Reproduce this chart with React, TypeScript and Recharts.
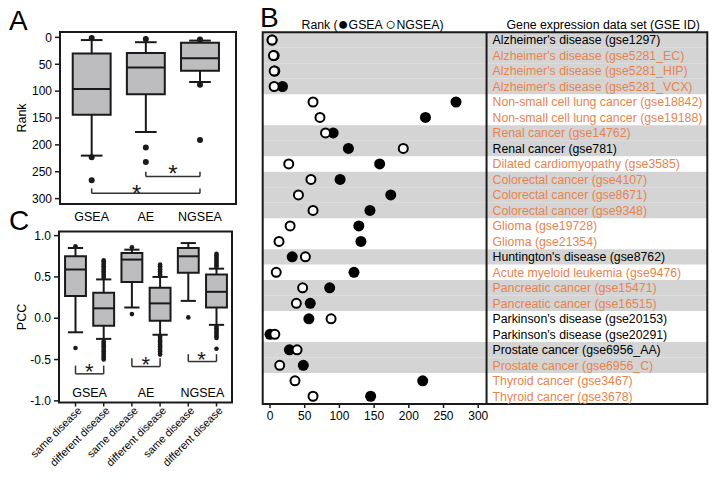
import React from "react";
import {
  ComposedChart,
  ScatterChart,
  Scatter,
  XAxis,
  YAxis,
  ReferenceArea,
  ReferenceLine,
  ReferenceDot,
} from "recharts";

const FONT = "'Liberation Sans', Arial, sans-serif";
const INK = "#1a1a1a";
const BOX_FILL = "#bdbdbf";
const BAND = "#d4d4d4";
const ORANGE = "#e8834e";

// ---- Panel A: rank of the disease gene set ----
const methodsA = ["GSEA", "AE", "NGSEA"];
const rankTicksA = [0, 50, 100, 150, 200, 250, 300];
const rankLowCap = [5, 9, 6];
const rankQ1 = [30, 29, 10];
const rankMedian = [96, 56, 39];
const rankQ3 = [144, 106, 62];
const rankHighCap = [220, 176, 83];
const rankOutliers = [
  [1, 223, 266],
  [3, 205, 232],
  [4, 88, 191],
];
// significance brackets: from / to group, line level, tick end, star position
const bracketsA = [
  { from: 1, to: 2, y: 259, tick: 250, starX: 1.5, starY: 244 },
  { from: 0, to: 2, y: 290, tick: 281, starX: 0.83, starY: 281 },
];

// ---- Panel C: PCC, same vs different disease ----
const groupsC = [
  "same disease",
  "different disease",
  "same disease",
  "different disease",
  "same disease",
  "different disease",
];
const methodsC = ["GSEA", "AE", "NGSEA"];
const pccTicks = [-1, -0.5, 0, 0.5, 1];
const pccLowCap = [-0.17, -0.25, 0.13, -0.2, 0.21, -0.08];
const pccQ1 = [0.27, -0.09, 0.44, -0.03, 0.55, 0.13];
const pccMedian = [0.59, 0.12, 0.71, 0.18, 0.75, 0.32];
const pccQ3 = [0.75, 0.31, 0.79, 0.37, 0.85, 0.53];
const pccHighCap = [0.85, 0.47, 0.83, 0.5, 0.91, 0.6];
const pccOutliers = [
  [0.87, -0.36],
  [
    0.49, 0.51, 0.53, 0.55, 0.57, 0.59, 0.61, 0.63, 0.65, 0.67, 0.69, 0.7,
    -0.28, -0.3, -0.32, -0.34, -0.36, -0.38, -0.4, -0.42, -0.44, -0.46,
    -0.48, -0.5,
  ],
  [0.86, 0.05],
  [
    0.51, 0.53, 0.55, 0.57, 0.59, 0.61, 0.63, 0.65, -0.22, -0.24, -0.26,
    -0.28, -0.3, -0.32, -0.34, -0.36, -0.38, -0.4, -0.42, -0.44,
  ],
  [0.01],
  [
    0.62, 0.64, 0.66, 0.68, 0.7, 0.72, 0.74, 0.76, 0.78, -0.1, -0.12, -0.14,
    -0.16, -0.18, -0.2, -0.22, -0.24, -0.37,
  ],
];
const bracketsC = [
  { from: 0, to: 1, y: -0.673, tick: -0.573, starX: 0.49, starY: -0.585 },
  { from: 2, to: 3, y: -0.585, tick: -0.484, starX: 2.49, starY: -0.496 },
  { from: 4, to: 5, y: -0.524, tick: -0.435, starX: 4.47, starY: -0.443 },
];
const groupLabelY = -0.895;

// ---- Panel B: rank per data set ----
const diseases = [
  "Alzheimer's disease",
  "Alzheimer's disease",
  "Alzheimer's disease",
  "Alzheimer's disease",
  "Non-small cell lung cancer",
  "Non-small cell lung cancer",
  "Renal cancer",
  "Renal cancer",
  "Dilated cardiomyopathy",
  "Colorectal cancer",
  "Colorectal cancer",
  "Colorectal cancer",
  "Glioma",
  "Glioma",
  "Huntington's disease",
  "Acute myeloid leukemia",
  "Pancreatic cancer",
  "Pancreatic cancer",
  "Parkinson's disease",
  "Parkinson's disease",
  "Prostate cancer",
  "Prostate cancer",
  "Thyroid cancer",
  "Thyroid cancer",
];
const gseIds = [
  "gse1297",
  "gse5281_EC",
  "gse5281_HIP",
  "gse5281_VCX",
  "gse18842",
  "gse19188",
  "gse14762",
  "gse781",
  "gse3585",
  "gse4107",
  "gse8671",
  "gse9348",
  "gse19728",
  "gse21354",
  "gse8762",
  "gse9476",
  "gse15471",
  "gse16515",
  "gse20153",
  "gse20291",
  "gse6956_AA",
  "gse6956_C",
  "gse3467",
  "gse3678",
];
const gseaRank = [
  3, 6, 7, 18, 268, 224, 91, 113, 158, 101, 174, 144, 128, 131, 32, 121, 86,
  58, 56, 0, 28, 48, 220, 145,
];
const ngseaRank = [
  3, 5, 6, 6, 62, 72, 80, 192, 27, 59, 41, 62, 29, 13, 51, 9, 47, 38, 88, 7,
  39, 14, 36, 62,
];
const rankTicksB = [0, 50, 100, 150, 200, 250, 300];

// draws one box-and-whisker through reference elements
function boxParts(
  key: string,
  x: number,
  half: number,
  capHalf: number,
  lo: number,
  q1: number,
  med: number,
  q3: number,
  hi: number
) {
  const line = { stroke: INK, strokeWidth: 2 };
  return [
    <ReferenceLine key={key + "w1"} segment={[{ x, y: lo }, { x, y: q1 }]} {...line} />,
    <ReferenceLine key={key + "w2"} segment={[{ x, y: q3 }, { x, y: hi }]} {...line} />,
    <ReferenceLine
      key={key + "c1"}
      segment={[{ x: x - capHalf, y: lo }, { x: x + capHalf, y: lo }]}
      {...line}
    />,
    <ReferenceLine
      key={key + "c2"}
      segment={[{ x: x - capHalf, y: hi }, { x: x + capHalf, y: hi }]}
      {...line}
    />,
    <ReferenceArea
      key={key + "b"}
      x1={x - half}
      x2={x + half}
      y1={q1}
      y2={q3}
      fill={BOX_FILL}
      fillOpacity={1}
      stroke={INK}
      strokeWidth={2}
    />,
    <ReferenceLine
      key={key + "m"}
      segment={[{ x: x - half, y: med }, { x: x + half, y: med }]}
      {...line}
    />,
  ];
}

function bracketParts(key: string, b: any, fontSize: number) {
  const line = { stroke: "#333", strokeWidth: 1.5 };
  return [
    <ReferenceLine key={key + "h"} segment={[{ x: b.from, y: b.y }, { x: b.to, y: b.y }]} {...line} />,
    <ReferenceLine key={key + "l"} segment={[{ x: b.from, y: b.y }, { x: b.from, y: b.tick }]} {...line} />,
    <ReferenceLine key={key + "r"} segment={[{ x: b.to, y: b.y }, { x: b.to, y: b.tick }]} {...line} />,
    <ReferenceDot
      key={key + "s"}
      x={b.starX}
      y={b.starY}
      r={0}
      shape={(p: any) => (
        <text
          x={p.cx}
          y={p.cy + fontSize * 0.57}
          textAnchor="middle"
          fontSize={fontSize}
          fontFamily={FONT}
          fill={INK}
        >
          *
        </text>
      )}
    />,
  ];
}

const dot = (r: number) => (p: any) => <circle cx={p.cx} cy={p.cy} r={r} fill={INK} />;

function PanelA() {
  const outliers = rankOutliers.flatMap((vals, i) => vals.map((v) => ({ x: i, y: v })));
  return (
    <ComposedChart
      width={240}
      height={230}
      margin={{ top: 32, right: 4, bottom: 0, left: 0 }}
      style={{ fontFamily: FONT }}
    >
      <XAxis
        type="number"
        dataKey="x"
        domain={[-0.585, 2.665]}
        ticks={[0, 1, 2]}
        interval={0}
        tickFormatter={(v: number) => methodsA[v]}
        height={26}
        axisLine={false}
        tickLine={false}
        tick={{ fill: "#000", fontSize: 12.5 }}
        allowDataOverflow
      />
      <YAxis
        type="number"
        dataKey="y"
        domain={[-10, 310]}
        reversed
        ticks={rankTicksA}
        interval={0}
        width={60}
        tickSize={5}
        tickMargin={3}
        axisLine={false}
        tickLine={{ stroke: INK, strokeWidth: 1.5 }}
        tick={{ fill: "#000", fontSize: 12 }}
        allowDataOverflow
        label={{
          value: "Rank",
          angle: -90,
          position: "insideLeft",
          offset: 22,
          style: { textAnchor: "middle" },
          fill: "#000",
          fontSize: 12.5,
        }}
      />
      {methodsA.flatMap((m, i) =>
        boxParts(
          "a" + i,
          i,
          0.35,
          0.2,
          rankLowCap[i],
          rankQ1[i],
          rankMedian[i],
          rankQ3[i],
          rankHighCap[i]
        )
      )}
      {bracketsA.flatMap((b, i) => bracketParts("ab" + i, b, 24))}
      <ReferenceArea
        x1={-0.585}
        x2={2.665}
        y1={-10}
        y2={310}
        fill="none"
        stroke={INK}
        strokeWidth={2}
      />
      <Scatter data={outliers} shape={dot(3)} isAnimationActive={false} />
    </ComposedChart>
  );
}

const SlantTick = (props: any) => {
  const { x, y, payload } = props;
  return (
    <g transform={`translate(${x + 4},${y + 2})`}>
      <text
        x={0}
        y={0}
        dy="0.35em"
        textAnchor="end"
        transform="rotate(-45)"
        fontSize={10.8}
        fill="#000"
        style={{ fill: "#000" }}
        fontFamily={FONT}
      >
        {groupsC[payload.value]}
      </text>
    </g>
  );
};

function PanelC() {
  const outliers = pccOutliers.flatMap((vals, i) => vals.map((v) => ({ x: i, y: v })));
  return (
    <ComposedChart
      width={240}
      height={278}
      margin={{ top: 31.5, right: 8, bottom: 0, left: 0 }}
      style={{ fontFamily: FONT }}
    >
      <XAxis
        type="number"
        dataKey="x"
        domain={[-0.585, 5.55]}
        ticks={[0, 1, 2, 3, 4, 5]}
        interval={0}
        height={75.5}
        axisLine={false}
        tickSize={4}
        tickMargin={0}
        tickLine={{ stroke: INK, strokeWidth: 1.5 }}
        tick={<SlantTick />}
        allowDataOverflow
      />
      <YAxis
        type="number"
        dataKey="y"
        domain={[-1.02, 1.05]}
        ticks={pccTicks}
        interval={0}
        width={59}
        tickSize={5}
        tickMargin={3}
        tickFormatter={(v: number) => v.toFixed(1)}
        axisLine={false}
        tickLine={{ stroke: INK, strokeWidth: 1.5 }}
        tick={{ fill: "#000", fontSize: 12 }}
        allowDataOverflow
        label={{
          value: "PCC",
          angle: -90,
          position: "insideLeft",
          offset: 22,
          style: { textAnchor: "middle" },
          fill: "#000",
          fontSize: 12.5,
        }}
      />
      {groupsC.flatMap((g, i) =>
        boxParts(
          "c" + i,
          i,
          0.37,
          0.27,
          pccLowCap[i],
          pccQ1[i],
          pccMedian[i],
          pccQ3[i],
          pccHighCap[i]
        )
      )}
      {bracketsC.flatMap((b, i) => bracketParts("cb" + i, b, 22))}
      {methodsC.map((m, i) => (
        <ReferenceDot
          key={"cl" + i}
          x={i * 2 + 0.5}
          y={groupLabelY}
          r={0}
          shape={(p: any) => (
            <text
              x={p.cx}
              y={p.cy + 4.5}
              textAnchor="middle"
              fontSize={12.5}
              fontFamily={FONT}
              fill="#000"
            >
              {m}
            </text>
          )}
        />
      ))}
      <ReferenceArea
        x1={-0.585}
        x2={5.55}
        y1={-1.02}
        y2={1.05}
        fill="none"
        stroke={INK}
        strokeWidth={2}
      />
      <Scatter data={outliers} shape={dot(2.3)} isAnimationActive={false} />
    </ComposedChart>
  );
}

function PanelB() {
  let grp = -1;
  const shaded = diseases.map((d, i) => {
    if (i === 0 || d !== diseases[i - 1]) grp++;
    return grp % 2 === 0;
  });
  const gseaPts = gseaRank.map((v, i) => ({ x: v, y: i }));
  const ngseaPts = ngseaRank.map((v, i) => ({ x: v, y: i }));
  return (
    <ScatterChart
      width={475}
      height={430}
      margin={{ top: 32.3, right: 7.7, bottom: 0, left: 22.7 }}
      style={{ fontFamily: FONT }}
    >
      <XAxis
        type="number"
        dataKey="x"
        domain={[-10.5, 630]}
        ticks={rankTicksB}
        interval={0}
        height={26}
        axisLine={false}
        tickSize={4}
        tickMargin={3}
        tickLine={{ stroke: INK, strokeWidth: 1.5 }}
        tick={{ fill: "#000", fontSize: 12 }}
        allowDataOverflow
      />
      <YAxis type="number" dataKey="y" domain={[-0.5, 23.5]} reversed hide allowDataOverflow />
      {diseases.map((d, i) =>
        shaded[i] ? (
          <ReferenceArea
            key={"band" + i}
            x1={-10.5}
            x2={630}
            y1={i - 0.5}
            y2={i + 0.5}
            fill={BAND}
            fillOpacity={1}
            stroke="none"
          />
        ) : null
      )}
      {diseases.map((d, i) => (
        <ReferenceArea
          key={"lab" + i}
          x1={312}
          x2={630}
          y1={i - 0.5}
          y2={i + 0.5}
          fill="none"
          stroke="none"
          label={{
            value: `${d} (${gseIds[i]})`,
            position: "insideLeft",
            offset: 6,
            fill: ngseaRank[i] < gseaRank[i] ? ORANGE : "#000",
            fontSize: 12.3,
          }}
        />
      ))}
      <ReferenceLine x={312} stroke={INK} strokeWidth={2} />
      <ReferenceArea
        x1={-10.5}
        x2={630}
        y1={-0.5}
        y2={23.5}
        fill="none"
        stroke={INK}
        strokeWidth={2}
      />
      <Scatter
        data={gseaPts}
        isAnimationActive={false}
        shape={(p: any) => <circle cx={p.cx} cy={p.cy} r={5.5} fill="#000" />}
      />
      <Scatter
        data={ngseaPts}
        isAnimationActive={false}
        shape={(p: any) => (
          <circle cx={p.cx} cy={p.cy} r={4.5} fill="#fff" stroke="#000" strokeWidth={2} />
        )}
      />
    </ScatterChart>
  );
}

export default function App() {
  return (
    <div
      style={{
        position: "absolute",
        left: 0,
        top: 0,
        width: 715,
        height: 478,
        background: "#fff",
        fontFamily: FONT,
      }}
    >
      <div style={{ position: "absolute", left: 0, top: 0 }}>
        <PanelA />
      </div>
      <div style={{ position: "absolute", left: 0, top: 200 }}>
        <PanelC />
      </div>
      <div style={{ position: "absolute", left: 240, top: 0 }}>
        <PanelB />
      </div>
      <svg
        width={715}
        height={478}
        style={{ position: "absolute", left: 0, top: 0, pointerEvents: "none" }}
        fontFamily={FONT}
      >
        <text x={9} y={30} fontSize={28} fill="#000">
          A
        </text>
        <text x={260} y={27} fontSize={28} fill="#000">
          B
        </text>
        <text x={9} y={229.5} fontSize={28} fill="#000">
          C
        </text>
        <text x={301.5} y={28.5} fontSize={12.3} fill="#000">
          Rank (
          <tspan fontSize={18} dy={1.5}>●</tspan>
          <tspan dy={-1.5}>GSEA </tspan>
          <tspan fontSize={18} dy={1.5}>○</tspan>
          <tspan dy={-1.5}>NGSEA)</tspan>
        </text>
        <text x={506.5} y={28.5} fontSize={12.3} fill="#000">
          Gene expression data set (GSE ID)
        </text>
      </svg>
    </div>
  );
}
